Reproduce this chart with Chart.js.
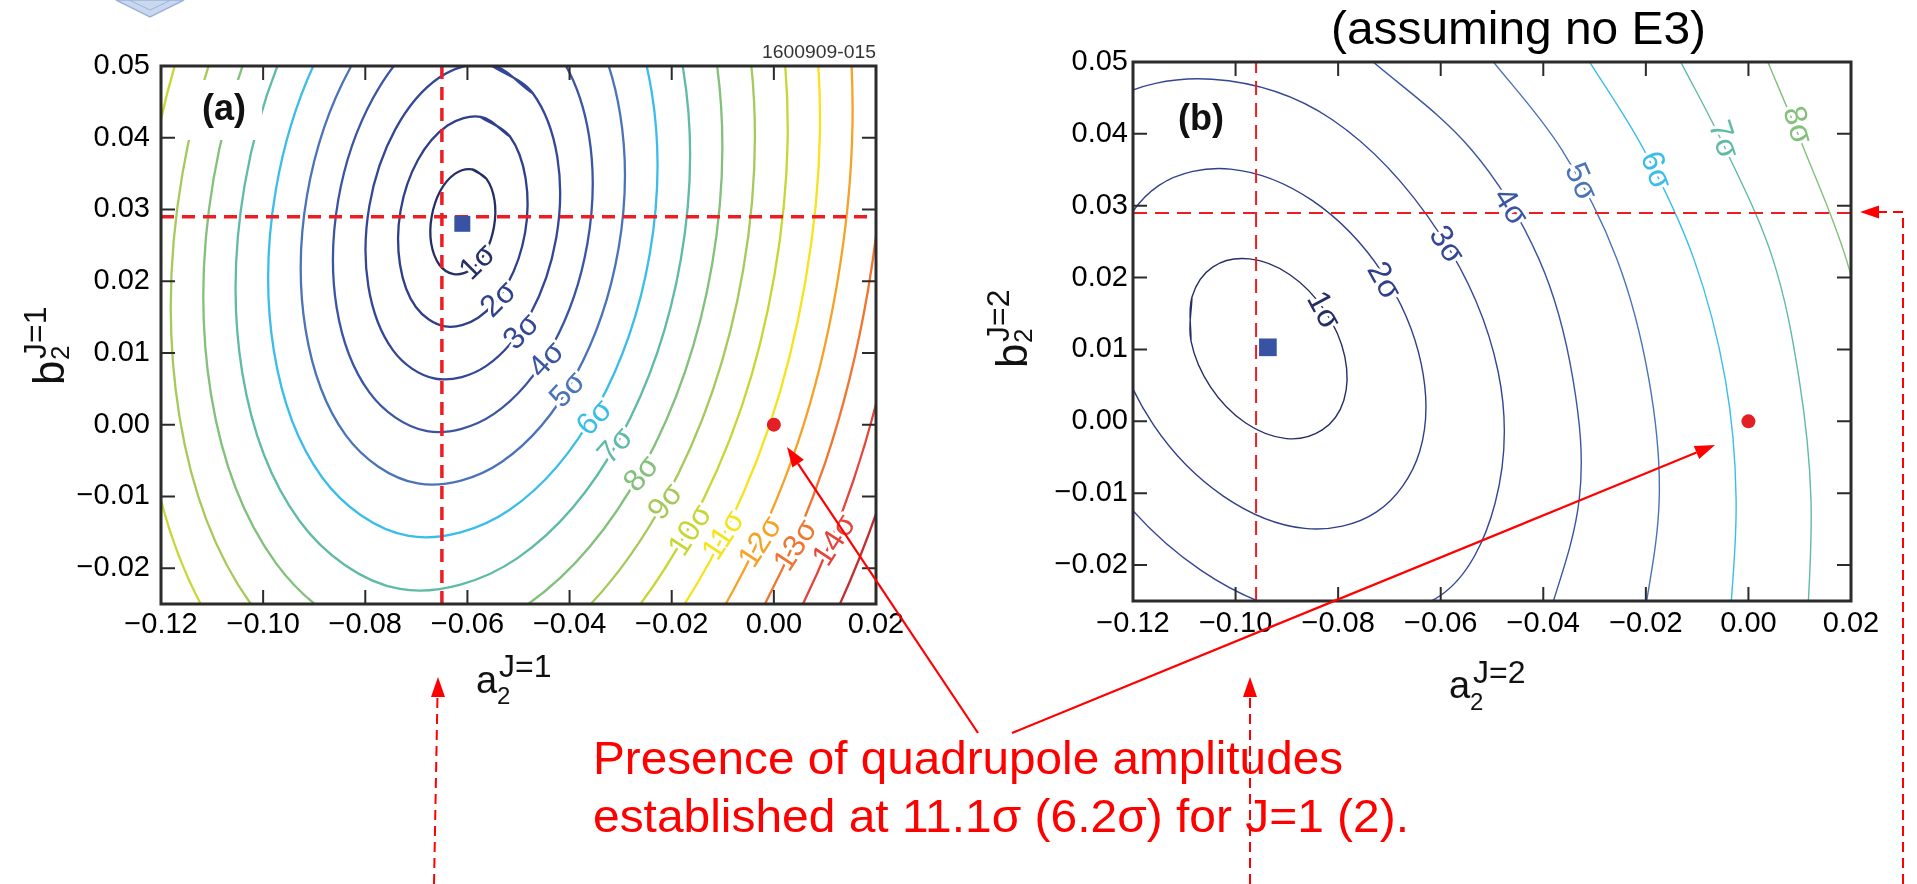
<!DOCTYPE html>
<html>
<head>
<meta charset="utf-8">
<title>Quadrupole amplitudes J=1 / J=2</title>
<script src="https://cdn.jsdelivr.net/npm/chart.js@4.4.0/dist/chart.umd.min.js"></script>
<style>
  html, body { margin: 0; padding: 0; background: #fff; }
  body { width: 1917px; height: 884px; position: relative; overflow: hidden; }
  canvas { position: absolute; top: 0; }
  #chartA { left: 0; }
  #chartB { left: 960px; }
  #deco { position: absolute; left: 0; top: 0; pointer-events: none; }
  #deco text { font-family: 'Liberation Sans', Arial, Helvetica, sans-serif; }
</style>
</head>
<body>
<canvas id="chartA" width="960" height="884"></canvas>
<canvas id="chartB" width="957" height="884"></canvas>

<svg id="deco" width="1917" height="884" xmlns="http://www.w3.org/2000/svg">
  <!-- adorno de la diapositiva -->
  <polygon points="116,0 150,17 184,0" fill="#cad8ef" stroke="#9db3dc" stroke-width="1.5"/>
  <polyline points="129,0 150,10 171,0" fill="none" stroke="#9db3dc" stroke-width="1"/>

  <text x="876" y="58" text-anchor="end" font-size="18" fill="#333" textLength="114" lengthAdjust="spacingAndGlyphs">1600909-015</text>
  <text x="1331" y="44" font-size="47" fill="#000" textLength="375" lengthAdjust="spacingAndGlyphs">(assuming no E3)</text>

  <rect x="186" y="80" width="76" height="60" fill="#fff"/>
  <text x="202" y="120" font-size="36" font-weight="bold" fill="#111">(a)</text>
  <text x="1178" y="130" font-size="36" font-weight="bold" fill="#111">(b)</text>

  <!-- titulos de ejes -->
  <text x="476" y="693" font-size="38" fill="#111">a</text>
  <text x="497" y="704" font-size="24" fill="#111">2</text>
  <text x="499" y="677" font-size="32" fill="#111">J=1</text>

  <text x="1449" y="698" font-size="38" fill="#111">a</text>
  <text x="1470" y="710" font-size="24" fill="#111">2</text>
  <text x="1473" y="683" font-size="32" fill="#111">J=2</text>

  <g transform="translate(64,385) rotate(-90)" fill="#111">
    <text x="0" y="0" font-size="44">b</text>
    <text x="25" y="5" font-size="26">2</text>
    <text x="26" y="-18" font-size="32">J=1</text>
  </g>
  <g transform="translate(1027,368) rotate(-90)" fill="#111">
    <text x="0" y="0" font-size="44">b</text>
    <text x="25" y="5" font-size="26">2</text>
    <text x="26" y="-18" font-size="32">J=2</text>
  </g>

  <!-- anotacion -->
  <g fill="#ff0000" font-size="47">
    <text x="593" y="774" textLength="750" lengthAdjust="spacingAndGlyphs">Presence of quadrupole amplitudes</text>
    <text x="593" y="832" textLength="816" lengthAdjust="spacingAndGlyphs">established at 11.1σ (6.2σ) for J=1 (2).</text>
  </g>
  <g stroke="#ff0000" stroke-width="2.2" fill="none">
    <line x1="978" y1="733" x2="798" y2="463.6"/>
    <line x1="1012" y1="733" x2="1696.5" y2="452.6"/>
  </g>
  <g stroke="#ff0000" stroke-width="2" stroke-dasharray="10 6" fill="none">
    <line x1="434" y1="884" x2="437.5" y2="695"/>
    <line x1="1250" y1="884" x2="1250" y2="695"/>
    <polyline points="1903,884 1903,212 1877,212"/>
  </g>
  <g fill="#ff0000">
    <polygon points="787,447 803.9,459.7 792.3,467.5"/>
    <polygon points="1715,445 1699.2,459.1 1693.8,446.1"/>
    <polygon points="438,677 431,697 445,697"/>
    <polygon points="1250,677 1243,697 1257,697"/>
    <polygon points="1860,212 1879,205.5 1879,218.5"/>
  </g>
</svg>

<script>
// ejes (iguales en los dos paneles)
const xTicks = [-0.12, -0.10, -0.08, -0.06, -0.04, -0.02, 0.00, 0.02];
const yTicks = [-0.02, -0.01, 0.00, 0.01, 0.02, 0.03, 0.04, 0.05];
const xRange = [-0.12, 0.02];
const yRange = [-0.025, 0.05];

// punto sin cuadrupolo (0,0)
const smPoint = [0, 0];

// ---------- panel (a): J=1 ----------
const bestA = [-0.061, 0.028];
const crossA = [-0.065, 0.029];
const sigmaA = [1, 2, 3, 4, 5, 6, 7, 8, 9, 10, 11, 12, 13, 14, 15];

const sigA1 = [[-0.0591,0.0356],[-0.0563,0.0343],[-0.0547,0.0313],[-0.0548,0.0276],[-0.0565,0.0240],[-0.0594,0.0216],[-0.0627,0.0210],[-0.0655,0.0223],[-0.0671,0.0253],[-0.0670,0.0290],[-0.0653,0.0326],[-0.0624,0.0350],[-0.0591,0.0356],[-0.0563,0.0343]];
const sigA2 = [[-0.0574,0.0429],[-0.0517,0.0402],[-0.0486,0.0343],[-0.0487,0.0268],[-0.0521,0.0197],[-0.0579,0.0149],[-0.0644,0.0137],[-0.0701,0.0164],[-0.0732,0.0223],[-0.0731,0.0298],[-0.0697,0.0369],[-0.0639,0.0417],[-0.0574,0.0429],[-0.0517,0.0402]];
const sigA3 = [[-0.0556,0.0502],[-0.0472,0.0462],[-0.0424,0.0373],[-0.0426,0.0261],[-0.0477,0.0154],[-0.0563,0.0082],[-0.0662,0.0064],[-0.0746,0.0104],[-0.0794,0.0193],[-0.0792,0.0305],[-0.0741,0.0412],[-0.0655,0.0484],[-0.0556,0.0502],[-0.0472,0.0462]];
const sigA4 = [[-0.0539,0.0575],[-0.0426,0.0521],[-0.0362,0.0403],[-0.0365,0.0253],[-0.0433,0.0111],[-0.0548,0.0015],[-0.0679,-0.0009],[-0.0792,0.0045],[-0.0856,0.0163],[-0.0853,0.0313],[-0.0785,0.0455],[-0.0670,0.0551],[-0.0539,0.0575],[-0.0426,0.0521]];
const sigA5 = [[-0.0521,0.0648],[-0.0380,0.0581],[-0.0301,0.0433],[-0.0304,0.0246],[-0.0389,0.0068],[-0.0533,-0.0052],[-0.0697,-0.0082],[-0.0838,-0.0015],[-0.0917,0.0133],[-0.0914,0.0320],[-0.0829,0.0498],[-0.0685,0.0618],[-0.0521,0.0648],[-0.0380,0.0581]];
const sigA6 = [[-0.0503,0.0721],[-0.0334,0.0640],[-0.0239,0.0463],[-0.0243,0.0238],[-0.0345,0.0025],[-0.0518,-0.0119],[-0.0715,-0.0155],[-0.0884,-0.0074],[-0.0979,0.0103],[-0.0975,0.0328],[-0.0873,0.0541],[-0.0700,0.0685],[-0.0503,0.0721],[-0.0334,0.0640]];
const sigA7 = [[-0.0486,0.0795],[-0.0289,0.0700],[-0.0177,0.0493],[-0.0182,0.0231],[-0.0301,-0.0018],[-0.0502,-0.0186],[-0.0732,-0.0229],[-0.0929,-0.0134],[-0.1041,0.0073],[-0.1036,0.0335],[-0.0917,0.0584],[-0.0716,0.0752],[-0.0486,0.0795],[-0.0289,0.0700]];
const sigA8 = [[-0.0468,0.0868],[-0.0243,0.0759],[-0.0116,0.0524],[-0.0121,0.0223],[-0.0257,-0.0061],[-0.0487,-0.0253],[-0.0750,-0.0302],[-0.0975,-0.0193],[-0.1102,0.0042],[-0.1097,0.0343],[-0.0961,0.0627],[-0.0731,0.0819],[-0.0468,0.0868],[-0.0243,0.0759]];
const sigA9 = [[-0.0450,0.0941],[-0.0197,0.0819],[-0.0054,0.0554],[-0.0060,0.0216],[-0.0213,-0.0104],[-0.0472,-0.0320],[-0.0768,-0.0375],[-0.1021,-0.0253],[-0.1164,0.0012],[-0.1158,0.0350],[-0.1005,0.0670],[-0.0746,0.0886],[-0.0450,0.0941],[-0.0197,0.0819]];
const sigA10 = [[-0.0433,0.1014],[-0.0151,0.0879],[0.0008,0.0584],[0.0001,0.0208],[-0.0169,-0.0147],[-0.0457,-0.0387],[-0.0785,-0.0448],[-0.1067,-0.0313],[-0.1226,-0.0018],[-0.1219,0.0358],[-0.1049,0.0713],[-0.0761,0.0953],[-0.0433,0.1014],[-0.0151,0.0879]];
const sigA11 = [[-0.0415,0.1087],[-0.0106,0.0938],[0.0069,0.0614],[0.0062,0.0201],[-0.0125,-0.0190],[-0.0441,-0.0454],[-0.0803,-0.0521],[-0.1112,-0.0372],[-0.1287,-0.0048],[-0.1280,0.0365],[-0.1093,0.0756],[-0.0777,0.1020],[-0.0415,0.1087],[-0.0106,0.0938]];
const sigA12 = [[-0.0398,0.1160],[-0.0060,0.0998],[0.0131,0.0644],[0.0123,0.0193],[-0.0081,-0.0233],[-0.0426,-0.0521],[-0.0820,-0.0594],[-0.1158,-0.0432],[-0.1349,-0.0078],[-0.1341,0.0373],[-0.1137,0.0799],[-0.0792,0.1087],[-0.0398,0.1160],[-0.0060,0.0998]];
const sigA13 = [[-0.0380,0.1233],[-0.0014,0.1057],[0.0192,0.0674],[0.0184,0.0186],[-0.0037,-0.0276],[-0.0411,-0.0588],[-0.0838,-0.0667],[-0.1204,-0.0491],[-0.1410,-0.0108],[-0.1402,0.0380],[-0.1181,0.0842],[-0.0807,0.1154],[-0.0380,0.1233],[-0.0014,0.1057]];
const sigA14 = [[-0.0362,0.1306],[0.0032,0.1117],[0.0254,0.0704],[0.0245,0.0178],[0.0007,-0.0319],[-0.0396,-0.0655],[-0.0856,-0.0740],[-0.1250,-0.0551],[-0.1472,-0.0138],[-0.1463,0.0388],[-0.1225,0.0885],[-0.0822,0.1221],[-0.0362,0.1306],[0.0032,0.1117]];
const sigA15 = [[-0.0345,0.1379],[0.0078,0.1176],[0.0316,0.0734],[0.0306,0.0171],[0.0051,-0.0362],[-0.0380,-0.0722],[-0.0873,-0.0813],[-0.1296,-0.0610],[-0.1534,-0.0168],[-0.1524,0.0395],[-0.1269,0.0928],[-0.0838,0.1288],[-0.0345,0.1379],[0.0078,0.1176]];
const contoursA = [sigA1, sigA2, sigA3, sigA4, sigA5, sigA6, sigA7, sigA8, sigA9, sigA10, sigA11, sigA12, sigA13, sigA14, sigA15];

// etiquetas "nσ" sobre las curvas de (a)
const labelSigA = [1, 2, 3, 4, 5, 6, 7, 8, 9, 10, 11, 12, 13, 14];
const labelPosA = [[-0.0579,0.0226],[-0.0538,0.0174],[-0.0493,0.0129],[-0.0444,0.0090],[-0.0403,0.0048],[-0.0350,0.0009],[-0.0309,-0.0030],[-0.0258,-0.0069],[-0.0211,-0.0108],[-0.0162,-0.0148],[-0.0097,-0.0155],[-0.0025,-0.0164],[0.0044,-0.0169],[0.0120,-0.0162]];
const labelAngA = [-45, -45, -46, -47, -47, -47, -48, -50, -52, -57, -57, -57, -57, -57];

// ---------- panel (b): J=2 ----------
const bestB = [-0.0937, 0.0103];
const crossB = [-0.096, 0.029];
const sigmaB = [1, 2, 3, 4, 5, 6, 7, 8];

const sigB1 = [[-0.1087,0.0112],[-0.1085,0.0173],[-0.1044,0.0215],[-0.0973,0.0226],[-0.0894,0.0204],[-0.0826,0.0154],[-0.0787,0.0090],[-0.0789,0.0029],[-0.0831,-0.0012],[-0.0901,-0.0024],[-0.0981,-0.0002],[-0.1049,0.0048],[-0.1087,0.0112],[-0.1085,0.0173]];
const sigB2 = [[-0.1237,0.0122],[-0.1233,0.0244],[-0.1150,0.0328],[-0.1010,0.0351],[-0.0850,0.0307],[-0.0714,0.0207],[-0.0638,0.0080],[-0.0641,-0.0042],[-0.0725,-0.0126],[-0.0865,-0.0149],[-0.1024,-0.0104],[-0.1160,-0.0005],[-0.1237,0.0122],[-0.1233,0.0244]];
const sigB3 = [[-0.1387,0.0133],[-0.1381,0.0316],[-0.1256,0.0441],[-0.1046,0.0476],[-0.0812,0.0420],[-0.0602,0.0261],[-0.0488,0.0069],[-0.0494,-0.0114],[-0.0602,-0.0243],[-0.0829,-0.0273],[-0.1068,-0.0207],[-0.1272,-0.0058],[-0.1387,0.0133],[-0.1381,0.0316]];
const sigB4 = [[-0.0756,0.0515],[-0.0540,0.0378],[-0.0408,0.0225],[-0.0342,0.0058],[-0.0330,-0.0109],[-0.0401,-0.0300]];
const sigB5 = [[-0.0514,0.0515],[-0.0364,0.0378],[-0.0256,0.0225],[-0.0194,0.0058],[-0.0174,-0.0109],[-0.0209,-0.0300]];
const sigB6 = [[-0.0323,0.0515],[-0.0204,0.0378],[-0.0106,0.0225],[-0.0045,0.0058],[-0.0024,-0.0109],[-0.0038,-0.0300]];
const sigB7 = [[-0.0143,0.0515],[-0.0044,0.0378],[0.0048,0.0225],[0.0099,0.0058],[0.0122,-0.0109],[0.0114,-0.0300]];
const sigB8 = [[0.0029,0.0515],[0.0109,0.0378],[0.0191,0.0225],[0.0245,0.0058],[0.0274,-0.0109]];
const contoursB = [sigB1, sigB2, sigB3, sigB4, sigB5, sigB6, sigB7, sigB8];

const labelSigB = [1, 2, 3, 4, 5, 6, 7, 8];
const labelPosB = [[-0.0830,0.0154],[-0.0712,0.0195],[-0.0590,0.0245],[-0.0465,0.0298],[-0.0328,0.0333],[-0.0182,0.0349],[-0.0050,0.0392],[0.0094,0.0412]];
const labelAngB = [62, 61, 57, 58, 66, 70, 72, 74];

// colores por nivel de sigma (1..15)
const sigmaColors = ['#262e66', '#2f3f8a', '#344696', '#3b55a3', '#4a73b8', '#3bbdea', '#5fbaa6', '#83c07c',
                     '#a6c95a', '#c8d634', '#f5e31c', '#f5a226', '#ef7530', '#e4443a', '#c22e32'];
const FONT = "'Liberation Sans', Arial, Helvetica, sans-serif";
const RED = '#ee1d23';

function toXY(arr) {
    return arr.map(p => ({ x: p[0], y: p[1] }));
}

function fmtTick(v) {
    return (v < 0 ? '\u2212' : '') + Math.abs(v).toFixed(2);
}

// etiquetas nσ giradas, con halo blanco que corta la curva
const sigmaLabels = {
    id: 'sigmaLabels',
    afterDatasetsDraw(chart, args, opts) {
        const { ctx, chartArea: a, scales: { x, y } } = chart;
        ctx.save();
        ctx.beginPath();
        ctx.rect(a.left, a.top, a.width, a.height);
        ctx.clip();
        ctx.font = opts.size + 'px ' + FONT;
        ctx.textAlign = 'center';
        ctx.textBaseline = 'middle';
        ctx.lineJoin = 'round';
        opts.pos.forEach((p, i) => {
            const txt = opts.sig[i] + '\u03c3';
            ctx.save();
            ctx.translate(x.getPixelForValue(p[0]), y.getPixelForValue(p[1]));
            ctx.rotate(opts.ang[i] * Math.PI / 180);
            ctx.lineWidth = 6;
            ctx.strokeStyle = '#fff';
            ctx.strokeText(txt, 0, 0);
            ctx.fillStyle = sigmaColors[opts.sig[i] - 1];
            ctx.fillText(txt, 0, 0);
            ctx.restore();
        });
        ctx.restore();
    }
};

// marco negro y marcas hacia adentro en los cuatro lados
const frameTicks = {
    id: 'frameTicks',
    afterDraw(chart, args, opts) {
        const { ctx, chartArea: a, scales: { x, y } } = chart;
        const L = opts.len;
        ctx.save();
        ctx.strokeStyle = '#2b2b2b';
        ctx.lineWidth = 2;
        ctx.beginPath();
        xTicks.forEach(v => {
            const px = x.getPixelForValue(v);
            ctx.moveTo(px, a.bottom); ctx.lineTo(px, a.bottom - L);
            ctx.moveTo(px, a.top); ctx.lineTo(px, a.top + L);
        });
        yTicks.forEach(v => {
            const py = y.getPixelForValue(v);
            ctx.moveTo(a.left, py); ctx.lineTo(a.left + L, py);
            ctx.moveTo(a.right, py); ctx.lineTo(a.right - L, py);
        });
        ctx.stroke();
        ctx.lineWidth = opts.lw;
        ctx.strokeRect(a.left, a.top, a.width, a.height);
        ctx.restore();
    }
};

function renderizarPanel(id, cfg) {
    const datasets = [
        { data: toXY([cfg.best]), pointStyle: 'rect', pointRadius: cfg.sq, backgroundColor: '#3853a4', borderWidth: 0 },
        { data: toXY([smPoint]), pointStyle: 'circle', pointRadius: 7, backgroundColor: '#e31e25', borderWidth: 0 },
        { data: toXY([[cfg.cross[0], yRange[0]], [cfg.cross[0], yRange[1]]]), showLine: true, pointRadius: 0,
          borderColor: RED, borderWidth: cfg.dashW, borderDash: cfg.dash, clip: 0 },
        { data: toXY([[xRange[0], cfg.cross[1]], [xRange[1], cfg.cross[1]]]), showLine: true, pointRadius: 0,
          borderColor: RED, borderWidth: cfg.dashW, borderDash: cfg.dash, clip: 0 }
    ];
    cfg.contours.forEach((c, i) => {
        datasets.push({
            data: toXY(c),
            showLine: true,
            pointRadius: 0,
            borderColor: sigmaColors[cfg.sigma[i] - 1],
            borderWidth: cfg.lw,
            tension: 0.35,
            capBezierPoints: false,
            fill: false,
            clip: 0
        });
    });

    const tickFont = { family: FONT, size: 29, lineHeight: 1.2 };

    return new Chart(document.getElementById(id), {
        type: 'scatter',
        data: { datasets },
        options: {
            responsive: false,
            animation: false,
            events: [],
            layout: { padding: cfg.pad },
            plugins: {
                legend: { display: false },
                tooltip: { enabled: false },
                sigmaLabels: { pos: cfg.labelPos, ang: cfg.labelAng, sig: cfg.labelSig, size: cfg.labelSize },
                frameTicks: { len: 14, lw: 3 }
            },
            scales: {
                x: {
                    type: 'linear', min: xRange[0], max: xRange[1],
                    afterBuildTicks: s => { s.ticks = xTicks.map(v => ({ value: v })); },
                    afterFit: s => { s.height = 60; },
                    grid: { display: false, drawTicks: false },
                    border: { display: false },
                    ticks: { autoSkip: false, maxRotation: 0, padding: cfg.xPad, color: '#000', font: tickFont, callback: fmtTick }
                },
                y: {
                    type: 'linear', min: yRange[0], max: yRange[1],
                    afterBuildTicks: s => { s.ticks = yTicks.map(v => ({ value: v })); },
                    afterFit: s => { s.width = cfg.yW; },
                    grid: { display: false, drawTicks: false },
                    border: { display: false },
                    ticks: { autoSkip: false, padding: cfg.yPad, color: '#000', font: tickFont, callback: fmtTick }
                }
            }
        },
        plugins: [sigmaLabels, frameTicks]
    });
}

renderizarPanel('chartA', {
    best: bestA, cross: crossA, contours: contoursA, sigma: sigmaA,
    labelPos: labelPosA, labelAng: labelAngA, labelSig: labelSigA, labelSize: 31,
    lw: 2.3, dashW: 3.5, dash: [13, 8], sq: 11.3,
    pad: { left: 0, right: 84, top: 66, bottom: 220 }, yW: 161, xPad: 4, yPad: 11
});

renderizarPanel('chartB', {
    best: bestB, cross: crossB, contours: contoursB, sigma: sigmaB,
    labelPos: labelPosB, labelAng: labelAngB, labelSig: labelSigB, labelSize: 32,
    lw: 1.4, dashW: 2, dash: [14, 8], sq: 12.5,
    pad: { left: 0, right: 66, top: 62, bottom: 223 }, yW: 173, xPad: 6, yPad: 5
});
</script>
</body>
</html>
